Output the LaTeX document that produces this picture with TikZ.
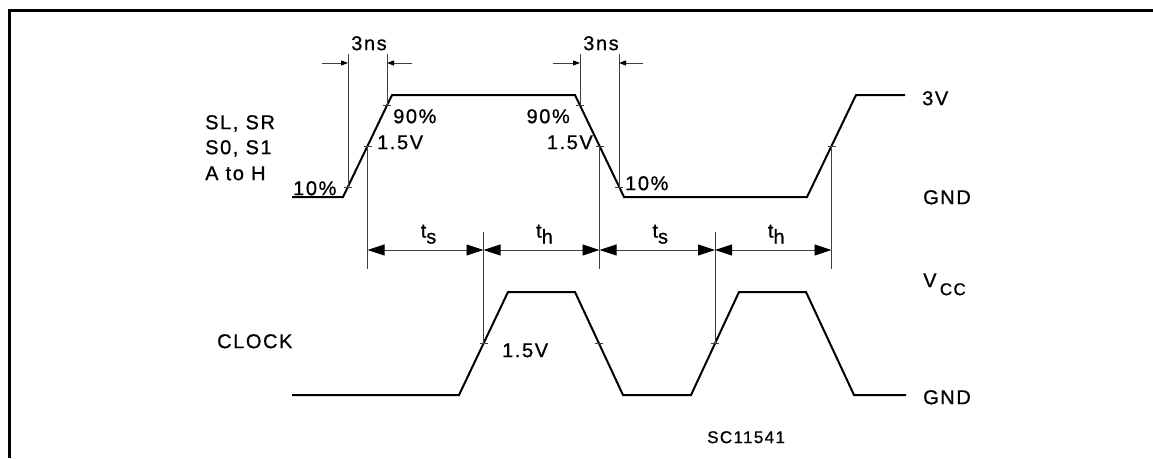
\documentclass[tikz,border=0pt]{standalone}
\usepackage{fontspec}
\setmainfont[LetterSpace=8,FakeBold=0.8]{Liberation Sans}
\usetikzlibrary{arrows.meta}

\begin{document}
\begin{tikzpicture}[x=1pt, y=-1pt,
    signal/.style={line width=2pt, line join=miter},
    helper/.style={line width=0.9pt, black!75},
    txt/.style={inner sep=0pt, text=black, font=\fontsize{20}{21}\selectfont, text height=14.3pt, text depth=0pt},
    dimsmall/.style={helper, ->, >={Triangle[length=7pt,width=5pt,color=black]}},
    dimbig/.style={helper, <->, >={Triangle[length=17pt,width=11pt,color=black]}}]
    \useasboundingbox (0,0) rectangle (1153,458);
    \draw [line width=3pt] (9,458) -- (9,10) -- (1153,10);

    \draw [signal] (292,197) -- (343,197) -- (392,95) -- (575,95) -- (624,197) -- (807,197) -- (856,95) -- (905,95);
    \draw [signal] (292,395) -- (459,395) -- (508,292) -- (575,292) -- (623,395) -- (691,395) -- (739,292) -- (806,292) -- (854,395) -- (906,395);

    \coordinate (r10) at (348,187);
    \coordinate (r50) at (367.5,146);
    \coordinate (r90) at (387,105);
    \coordinate (f90) at (580,105);
    \coordinate (f50) at (599.5,146);
    \coordinate (f10) at (619,187);
    \coordinate (r2) at (831.5,146);
    \coordinate (c1) at (483.5,343.5);
    \coordinate (c2) at (599,343.5);
    \coordinate (c3) at (715,343.5);
    \coordinate (top) at (0,54);
    \coordinate (dim) at (0,63);
    \coordinate (up) at (0,232);
    \coordinate (arr) at (0,250);
    \coordinate (low) at (0,269);
    \coordinate (d1) at (322,63);
    \coordinate (d2) at (412,63);
    \coordinate (d3) at (553,63);
    \coordinate (d4) at (643,63);

    \foreach \p in {r10,r50,r90,f90,f50,f10,r2,c1,c2,c3}
        \draw [helper] ([xshift=-4pt]\p) -- ([xshift=4pt]\p);

    \foreach \p in {r10,r90,f90,f10}
        \draw [helper] (\p) -- (\p |- top);
    \foreach \p in {r50,f50,r2}
        \draw [helper] (\p) -- (\p |- low);
    \foreach \p in {c1,c3}
        \draw [helper] (\p) -- (\p |- up);

    \draw [dimsmall] (d1) -- (r10 |- dim);
    \draw [dimsmall] (d2) -- (r90 |- dim);
    \draw [dimsmall] (d3) -- (f90 |- dim);
    \draw [dimsmall] (d4) -- (f10 |- dim);

    \draw [dimbig] (r50 |- arr) -- node [txt, above=12pt, xshift=3pt] (ts1) {t\raisebox{-6pt}{s}} (c1 |- arr);
    \draw [dimbig] (c1 |- arr) -- node [txt, above=12pt, xshift=3pt] (th1) {t\raisebox{-6pt}{h}} (f50 |- arr);
    \draw [dimbig] (f50 |- arr) -- node [txt, above=12pt, xshift=3pt] (ts2) {t\raisebox{-6pt}{s}} (c3 |- arr);
    \draw [dimbig] (c3 |- arr) -- node [txt, above=12pt, xshift=3pt] (th2) {t\raisebox{-6pt}{h}} (r2 |- arr);

    \node [txt] (ns1) at (369,43) {3ns};
    \node [txt] (ns2) at (601,43) {3ns};
    \node [txt, anchor=west] (sl) at (205,122) {SL, SR};
    \node [txt, anchor=west] (so) at (205,147) {S0, S1};
    \node [txt, anchor=west] (ah) at (205,173) {A to H};
    \node [txt, anchor=west] (p10a) at (293,188) {10\%};
    \node [txt, anchor=west] (p90a) at (393,116) {90\%};
    \node [txt, anchor=west] (v15a) at (377,142) {1.5V};
    \node [txt, anchor=east] (p90b) at (570,116) {90\%};
    \node [txt, anchor=east] (v15b) at (593,142) {1.5V};
    \node [txt, anchor=west] (p10b) at (625,183) {10\%};
    \node [txt, anchor=west] (v3) at (922,98) {3V};
    \node [txt, anchor=west] (gnd1) at (923,197) {GND};
    \node [txt, anchor=west] (clk) at (217,341) {CLOCK};
    \node [txt, anchor=west] (v15c) at (502,350) {1.5V};
    \node [txt, anchor=west] (vcc) at (923,280) {V\,\raisebox{-8pt}{\fontsize{17}{17}\selectfont CC}};
    \node [txt, anchor=west] (gnd2) at (923,397) {GND};
    \node [txt, anchor=west, font=\fontsize{17}{18}\selectfont, text height=12.2pt] (code) at (707,437) {SC11541};
\end{tikzpicture}
\end{document}
